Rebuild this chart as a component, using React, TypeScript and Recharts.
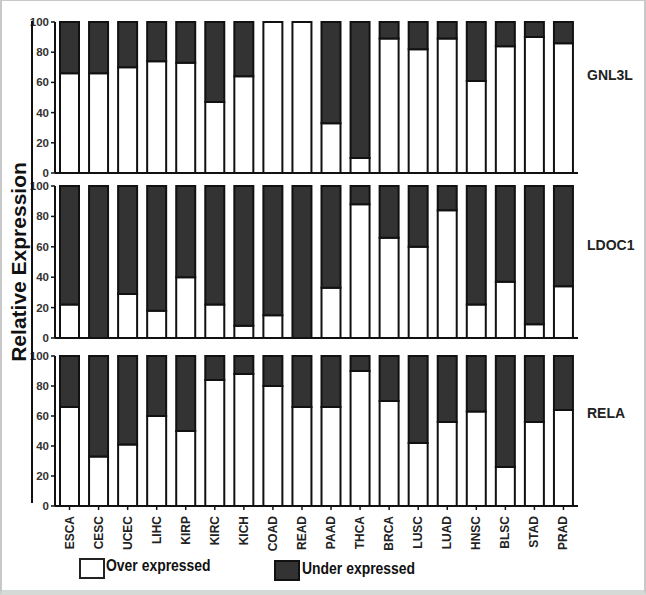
import React from 'react'
import { BarChart, Bar, XAxis, YAxis } from 'recharts'

const cancers = ['ESCA', 'CESC', 'UCEC', 'LIHC', 'KIRP', 'KIRC', 'KICH', 'COAD', 'READ', 'PAAD', 'THCA', 'BRCA', 'LUSC', 'LUAD', 'HNSC', 'BLSC', 'STAD', 'PRAD']
const genes = ['GNL3L', 'LDOC1', 'RELA']
const gnl3lOver = [66, 66, 70, 74, 73, 47, 64, 100, 100, 33, 10, 89, 82, 89, 61, 84, 90, 86]
const ldoc1Over = [22, 0, 29, 18, 40, 22, 8, 15, 0, 33, 88, 66, 60, 84, 22, 37, 9, 34]
const relaOver = [66, 33, 41, 60, 50, 84, 88, 80, 66, 66, 90, 70, 42, 56, 63, 26, 56, 64]
const yTicks = [0, 20, 40, 60, 80, 100]
const seriesNames = ['Over expressed', 'Under expressed']

const font = '"Liberation Sans", Arial, sans-serif'

const makeRows = (over: number[]) =>
  cancers.map((name, i) => ({ name, over: over[i], under: 100 - over[i] }))

const VerticalTick = (props: any) => {
  const { x, y, payload } = props
  return (
    <text
      x={x}
      y={y + 4}
      transform={`rotate(-90, ${x}, ${y + 4})`}
      textAnchor="end"
      dominantBaseline="central"
      fontSize={12}
      fontWeight="bold"
      fontFamily={font}
      fill="#222"
    >
      {payload.value}
    </text>
  )
}

type PanelProps = {
  over: number[]
  top: number
  marginTop: number
  height: number
  xHeight: number
  showLabels: boolean
}

const Panel = ({ over, top, marginTop, height, xHeight, showLabels }: PanelProps) => (
  <div style={{ position: 'absolute', left: 0, top }}>
    <BarChart
      width={646}
      height={height}
      data={makeRows(over)}
      margin={{ top: marginTop, right: 68, left: 0, bottom: 0 }}
      barSize={19}
    >
      <XAxis
        dataKey="name"
        height={xHeight}
        interval={0}
        axisLine={{ stroke: '#111', strokeWidth: 2 }}
        tickLine={{ stroke: '#111', strokeWidth: 1.5 }}
        tickSize={4}
        tick={showLabels ? <VerticalTick /> : false}
      />
      <YAxis
        width={55}
        domain={[0, 100]}
        ticks={yTicks}
        interval={0}
        axisLine={{ stroke: '#111', strokeWidth: 2 }}
        tickLine={{ stroke: '#111', strokeWidth: 1.5 }}
        tickSize={4}
        tick={{ fontSize: 11.5, fontWeight: 'bold', fontFamily: font, fill: '#333' }}
      />
      <Bar dataKey="over" stackId="a" fill="#ffffff" stroke="#111" strokeWidth={2} isAnimationActive={false} />
      <Bar dataKey="under" stackId="a" fill="#333333" stroke="#111" strokeWidth={2} isAnimationActive={false} />
    </BarChart>
  </div>
)

const labelStyle: React.CSSProperties = {
  position: 'absolute',
  left: 587,
  fontFamily: font,
  fontWeight: 'bold',
  fontSize: 14,
  color: '#222',
}

const legendText: React.CSSProperties = {
  position: 'absolute',
  fontFamily: font,
  fontWeight: 'bold',
  fontSize: 17,
  color: '#111',
  whiteSpace: 'nowrap',
  transform: 'scaleX(0.82)',
  transformOrigin: 'left center',
}

export default function App() {
  return (
    <div
      style={{
        position: 'absolute',
        left: 0,
        top: 0,
        width: 646,
        height: 595,
        background: '#fff',
        boxSizing: 'border-box',
        borderTop: '1px solid #c8c8c8',
        borderLeft: '2px solid #c8c8c8',
        borderRight: '2px solid #c8c8c8',
        borderBottom: '5px solid #d6dad6',
      }}
    >
      <div style={{ position: 'absolute', left: -2, top: -1, width: 646, height: 595 }}>
        <Panel over={gnl3lOver} top={0} marginTop={22} height={179} xHeight={6} showLabels={false} />
        <Panel over={ldoc1Over} top={176} marginTop={10} height={168} xHeight={6} showLabels={false} />
        <Panel over={relaOver} top={346} marginTop={10} height={205} xHeight={45} showLabels={true} />

        <div style={{ ...labelStyle, top: 67 }}>{genes[0]}</div>
        <div style={{ ...labelStyle, top: 237 }}>{genes[1]}</div>
        <div style={{ ...labelStyle, top: 405 }}>{genes[2]}</div>

        <div style={{ position: 'absolute', left: 31, top: 21, width: 2, height: 482, background: '#111' }} />
        <div
          style={{
            position: 'absolute',
            left: 19,
            top: 262,
            transform: 'translate(-50%, -50%) rotate(-90deg)',
            whiteSpace: 'nowrap',
            fontFamily: font,
            fontWeight: 'bold',
            fontSize: 21,
            color: '#111',
          }}
        >
          Relative Expression
        </div>

        <div style={{ position: 'absolute', left: 79, top: 558, width: 22, height: 17, border: '2px solid #222', background: '#fff' }} />
        <div style={{ ...legendText, left: 106, top: 556 }}>{seriesNames[0]}</div>
        <div style={{ position: 'absolute', left: 274, top: 560, width: 22, height: 17, border: '2px solid #111', background: '#333' }} />
        <div style={{ ...legendText, left: 302, top: 559 }}>{seriesNames[1]}</div>
      </div>
    </div>
  )
}
